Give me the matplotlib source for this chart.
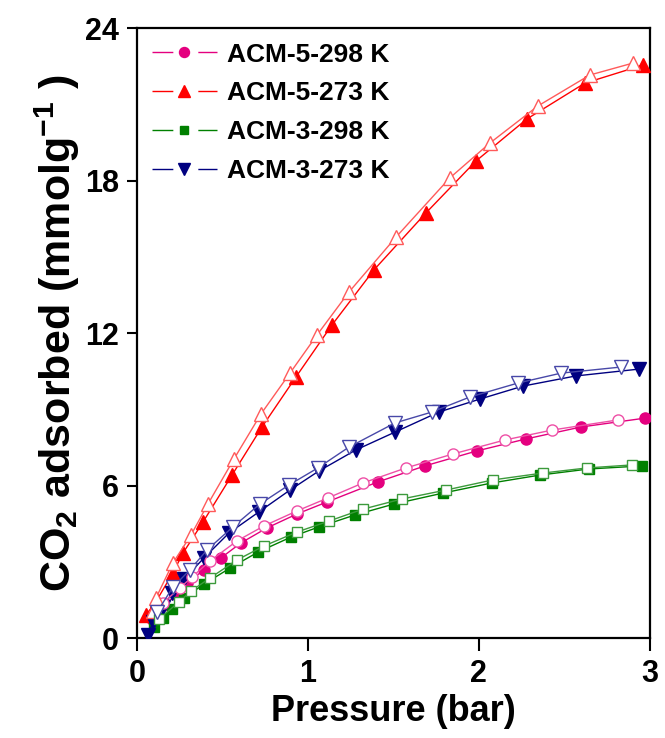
import matplotlib
matplotlib.use("Agg")
import matplotlib.pyplot as plt
from matplotlib.lines import Line2D
from matplotlib.legend_handler import HandlerTuple

plt.rcParams['font.family'] = ['Liberation Sans', 'DejaVu Sans']
plt.rcParams['font.weight'] = 'bold'
plt.rcParams['mathtext.fontset'] = 'custom'
plt.rcParams['mathtext.bf'] = 'Liberation Sans:bold'
plt.rcParams['mathtext.rm'] = 'Liberation Sans:bold'
plt.rcParams['mathtext.default'] = 'bf'

# ---- data (pressure in bar, uptake in mmol/g) ----
a5_298_ads_x = [0.088, 0.152, 0.234, 0.292, 0.392, 0.491, 0.608, 0.760, 0.936, 1.111, 1.409, 1.684, 1.988, 2.275, 2.596, 2.971]
a5_298_ads_y = [0.75, 1.30, 1.69, 2.16, 2.68, 3.15, 3.74, 4.33, 4.88, 5.35, 6.14, 6.77, 7.36, 7.83, 8.30, 8.65]
a5_298_des_x = [0.152, 0.251, 0.322, 0.427, 0.585, 0.743, 0.936, 1.117, 1.322, 1.573, 1.848, 2.152, 2.427, 2.813]
a5_298_des_y = [1.38, 1.97, 2.40, 3.03, 3.82, 4.41, 5.00, 5.51, 6.10, 6.69, 7.24, 7.79, 8.18, 8.58]

a5_273_ads_x = [0.053, 0.117, 0.210, 0.269, 0.386, 0.556, 0.731, 0.930, 1.140, 1.386, 1.690, 1.982, 2.281, 2.620, 2.959]
a5_273_ads_y = [0.90, 1.50, 2.56, 3.34, 4.56, 6.41, 8.30, 10.27, 12.31, 14.48, 16.72, 18.76, 20.42, 21.83, 22.54]
a5_273_des_x = [0.094, 0.111, 0.210, 0.316, 0.415, 0.567, 0.725, 0.895, 1.053, 1.240, 1.515, 1.830, 2.064, 2.345, 2.649, 2.901]
a5_273_des_y = [1.06, 1.57, 2.95, 4.05, 5.27, 7.04, 8.81, 10.42, 11.92, 13.61, 15.77, 18.10, 19.47, 20.93, 22.15, 22.62]

a3_298_ads_x = [0.099, 0.152, 0.205, 0.275, 0.392, 0.544, 0.708, 0.901, 1.064, 1.275, 1.503, 1.789, 2.076, 2.357, 2.643, 2.953]
a3_298_ads_y = [0.43, 0.79, 1.14, 1.57, 2.12, 2.75, 3.38, 3.97, 4.37, 4.84, 5.27, 5.70, 6.10, 6.41, 6.65, 6.77]
a3_298_des_x = [0.129, 0.246, 0.316, 0.427, 0.585, 0.743, 0.936, 1.123, 1.322, 1.550, 1.807, 2.082, 2.374, 2.632, 2.895]
a3_298_des_y = [0.75, 1.42, 1.85, 2.36, 3.07, 3.62, 4.17, 4.60, 5.07, 5.47, 5.82, 6.22, 6.49, 6.69, 6.81]

a3_273_ads_x = [0.064, 0.094, 0.152, 0.205, 0.275, 0.392, 0.538, 0.713, 0.895, 1.064, 1.281, 1.509, 1.766, 2.006, 2.257, 2.567, 2.936]
a3_273_ads_y = [0.12, 0.63, 1.22, 1.77, 2.32, 3.15, 4.13, 4.96, 5.82, 6.57, 7.40, 8.10, 8.89, 9.40, 9.91, 10.31, 10.58]
a3_273_des_x = [0.117, 0.211, 0.310, 0.409, 0.561, 0.719, 0.889, 1.058, 1.240, 1.509, 1.725, 1.947, 2.228, 2.480, 2.830]
a3_273_des_y = [1.02, 2.01, 2.68, 3.46, 4.37, 5.27, 6.02, 6.69, 7.51, 8.46, 8.89, 9.48, 10.03, 10.42, 10.66]

labels = ['ACM-5-298 K', 'ACM-5-273 K', 'ACM-3-298 K', 'ACM-3-273 K']
x_ticks = [0, 1, 2, 3]
y_ticks = [0, 6, 12, 18, 24]

series = [
    (a5_298_ads_x, a5_298_ads_y, a5_298_des_x, a5_298_des_y, 'o', 8, '#E4007F', '#EE4FA6'),
    (a5_273_ads_x, a5_273_ads_y, a5_273_des_x, a5_273_des_y, '^', 10, '#FF0000', '#FF5A5A'),
    (a3_298_ads_x, a3_298_ads_y, a3_298_des_x, a3_298_des_y, 's', 6.5, '#008000', '#3C9A3C'),
    (a3_273_ads_x, a3_273_ads_y, a3_273_des_x, a3_273_des_y, 'v', 10, '#000080', '#4848A8'),
]

fig = plt.figure(figsize=(6.65, 7.38), dpi=100)
ax = fig.add_axes([0.206, 0.1355, 0.771, 0.8265])

handles = []
for (ax_, ay_, dx_, dy_, mk, ms, c_ads, c_des), lab in zip(series, labels):
    ax.plot(ax_, ay_, color=c_ads, lw=1.0, marker=mk, ms=ms, mfc=c_ads, mec=c_ads, zorder=3)
    ax.plot(dx_, dy_, color=c_des, lw=1.0, marker=mk, ms=ms, mfc='white', mec=c_des, mew=1.0, zorder=4)
    ln = Line2D([], [], color=c_ads, lw=1.0, dashes=(15, 18))
    mkh = Line2D([], [], color=c_ads, lw=0, marker=mk, ms=ms * 0.9, mfc=c_ads, mec=c_ads)
    handles.append((ln, mkh))

ax.set_xlim(0, 3)
ax.set_ylim(0, 24)
ax.set_xticks(x_ticks)
ax.set_yticks(y_ticks)
ax.set_xticklabels([str(v) for v in x_ticks], fontsize=22, fontweight='bold')
ax.set_yticklabels([str(v) for v in y_ticks], fontsize=22, fontweight='bold')
ax.tick_params(axis='x', direction='out', length=9, width=1.5, pad=6)
ax.tick_params(axis='y', direction='out', length=7, width=1.5, pad=6)
for s in ax.spines.values():
    s.set_linewidth(1.6)

ax.set_xlabel('Pressure (bar)', fontsize=26, fontweight='bold', labelpad=4)
ax.set_ylabel(r'CO$_{2}$ adsorbed (mmolg$^{-1}$ )', fontsize=31, fontweight='bold', labelpad=2)

leg = ax.legend(handles, labels, loc='upper left', frameon=False,
                handlelength=2.5, handletextpad=0.35, labelspacing=0.56,
                borderaxespad=0.15, handler_map={tuple: HandlerTuple(ndivide=1, pad=0)},
                prop={'weight': 'bold', 'size': 19})

fig.savefig('out.png', dpi=100)
